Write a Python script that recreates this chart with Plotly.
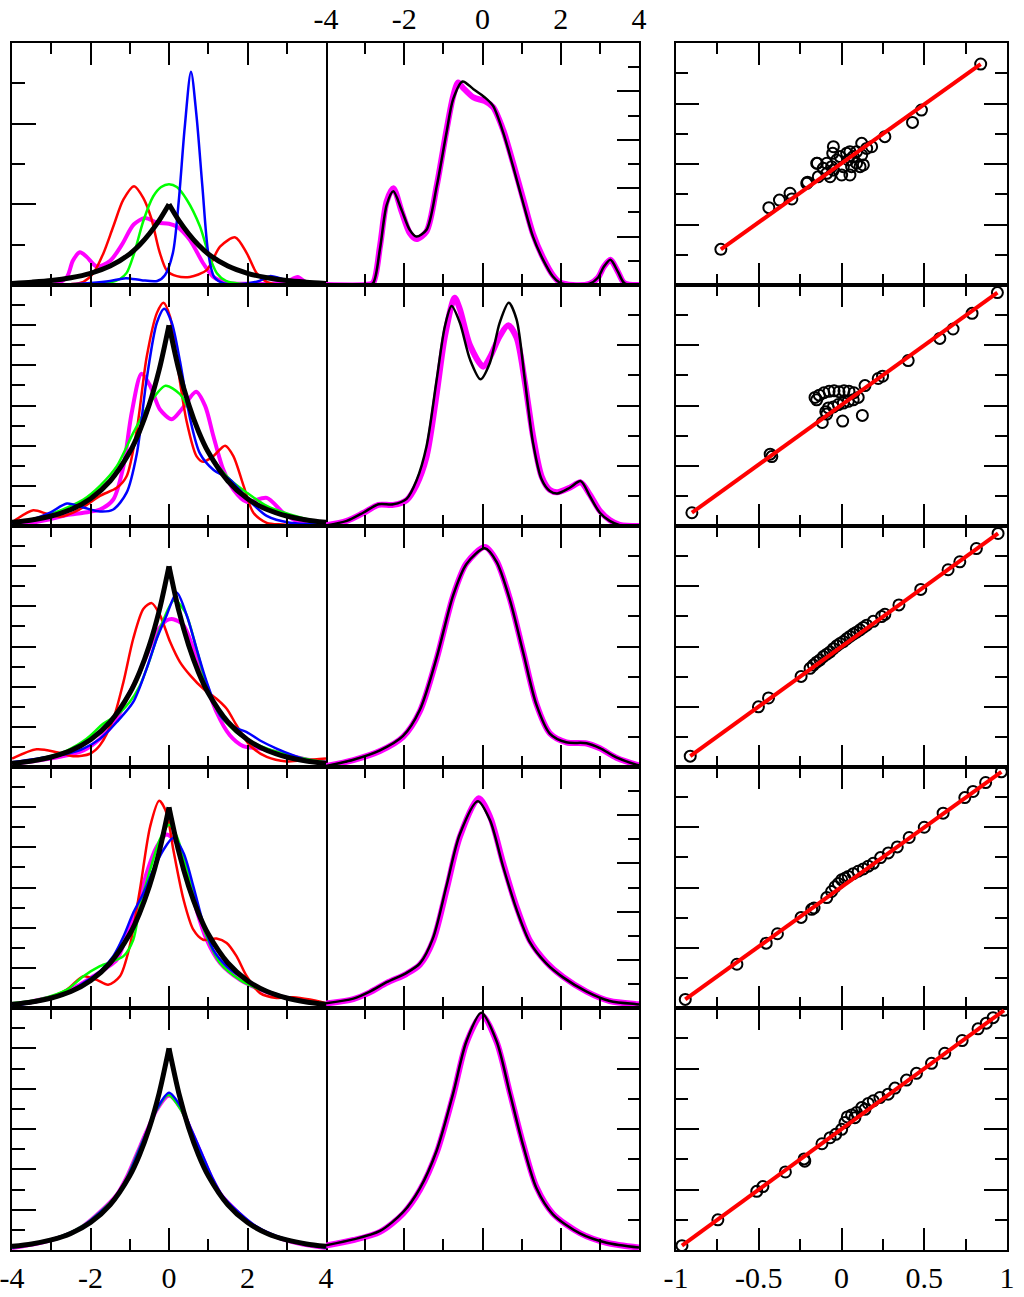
import plotly.graph_objects as go
from plotly.subplots import make_subplots

W, H = 1024, 1297

# ---------------- column 1: density estimates ----------------
# black reference curves
blk1_x = [-4, -3.5, -3, -2.5, -2, -1.5, -1, -0.75, -0.5, -0.25, 0, 0.25, 0.5, 0.75, 1, 1.5, 2, 2.5, 3, 3.5, 4]
blk1_y = [0.004, 0.007, 0.011, 0.018, 0.029, 0.047, 0.077, 0.099, 0.127, 0.16, 0.2, 0.16, 0.127, 0.099, 0.077, 0.047, 0.029, 0.018, 0.011, 0.007, 0.004]
blk_x = [-4, -3.5, -3, -2.5, -2, -1.5, -1, -0.75, -0.5, -0.25, 0, 0.25, 0.5, 0.75, 1, 1.5, 2, 2.5, 3, 3.5, 4]
blk_y = [0.009, 0.015, 0.025, 0.041, 0.068, 0.112, 0.184, 0.236, 0.303, 0.389, 0.5, 0.389, 0.303, 0.236, 0.184, 0.112, 0.068, 0.041, 0.025, 0.015, 0.009]

# row 1
r1_red_x = [-4, -3, -2.5, -2.18, -1.93, -1.67, -1.42, -1.16, -0.89, -0.65, -0.45, -0.25, -0.05, 0.2, 0.53, 0.96, 1.3, 1.69, 1.98, 2.23, 2.49, 2.8, 4]
r1_red_y = [0, 0.0, 0.002, 0.008, 0.029, 0.079, 0.145, 0.212, 0.245, 0.215, 0.165, 0.085, 0.035, 0.022, 0.02, 0.037, 0.095, 0.118, 0.079, 0.03, 0.008, 0.001, 0]
r1_grn_x = [-4, -2, -1.5, -1.25, -1.08, -0.9, -0.65, -0.4, -0.2, 0, 0.2, 0.45, 0.79, 1.0, 1.22, 1.45, 1.8, 2.5, 4]
r1_grn_y = [0, 0.001, 0.006, 0.015, 0.03, 0.075, 0.16, 0.22, 0.243, 0.25, 0.243, 0.212, 0.145, 0.079, 0.029, 0.01, 0.003, 0.001, 0]
r1_blu_x = [-4, -2.5, -2, -1.5, -1.1, -0.7, -0.3, -0.1, 0.1, 0.25, 0.4, 0.56, 0.7, 0.85, 1.0, 1.15, 1.4, 1.8, 2.3, 2.57, 3.0, 3.4, 4]
r1_blu_y = [0, 0.002, 0.005, 0.01, 0.017, 0.012, 0.01, 0.025, 0.08, 0.21, 0.39, 0.529, 0.42, 0.245, 0.079, 0.02, 0.004, 0.002, 0.01, 0.022, 0.012, 0.004, 0]
r1_mag_x = [-4, -2.9, -2.6, -2.45, -2.27, -2.1, -1.84, -1.5, -1.2, -0.9, -0.61, -0.31, 0, 0.2, 0.53, 0.87, 1.13, 1.47, 2.0, 2.6, 3.0, 3.28, 3.5, 4]
r1_mag_y = [0, 0.002, 0.02, 0.06, 0.081, 0.07, 0.046, 0.06, 0.1, 0.15, 0.166, 0.155, 0.152, 0.145, 0.112, 0.054, 0.02, 0.006, 0.003, 0.003, 0.008, 0.02, 0.006, 0]

# row 2
r2_red_x = [-4, -3.88, -3.46, -3.1, -2.78, -2.3, -1.76, -1.33, -1.08, -0.82, -0.57, -0.31, -0.14, 0.03, 0.2, 0.45, 0.7, 0.87, 1.13, 1.43, 1.64, 1.9, 2.15, 2.49, 2.9, 4]
r2_red_y = [0.008, 0.017, 0.039, 0.03, 0.023, 0.04, 0.075, 0.095, 0.124, 0.24, 0.42, 0.53, 0.556, 0.52, 0.41, 0.26, 0.174, 0.16, 0.174, 0.2, 0.174, 0.1, 0.033, 0.008, 0.004, 0.001]
r2_grn_x = [-4, -3.88, -3.03, -2.6, -2.18, -1.76, -1.33, -0.91, -0.48, -0.09, 0.28, 0.54, 0.79, 1.13, 1.55, 1.98, 2.49, 3.08, 3.76, 4]
r2_grn_y = [0.006, 0.008, 0.029, 0.046, 0.066, 0.1, 0.149, 0.232, 0.307, 0.349, 0.328, 0.282, 0.224, 0.166, 0.116, 0.083, 0.05, 0.029, 0.012, 0.009]
r2_blu_x = [-4, -3.46, -3.03, -2.6, -2.18, -1.76, -1.42, -1.08, -0.82, -0.57, -0.31, -0.12, 0.07, 0.28, 0.54, 0.79, 1.13, 1.55, 1.98, 2.49, 3.08, 4]
r2_blu_y = [0.004, 0.017, 0.033, 0.056, 0.046, 0.036, 0.041, 0.083, 0.18, 0.365, 0.506, 0.541, 0.506, 0.41, 0.266, 0.18, 0.14, 0.116, 0.07, 0.025, 0.008, 0.004]
r2_mag_x = [-4, -3.9, -3.03, -2.6, -2.18, -1.76, -1.42, -1.16, -0.95, -0.7, -0.48, -0.23, 0.07, 0.32, 0.69, 0.92, 1.13, 1.38, 1.64, 1.98, 2.49, 2.91, 3.34, 3.8, 4]
r2_mag_y = [0.001, 0.002, 0.017, 0.027, 0.033, 0.041, 0.066, 0.149, 0.282, 0.379, 0.349, 0.29, 0.266, 0.29, 0.334, 0.299, 0.224, 0.141, 0.091, 0.06, 0.07, 0.033, 0.008, 0.002, 0.001]

# row 3
r3_red_x = [-4, -3.37, -2.86, -2.44, -2.01, -1.76, -1.42, -1.16, -0.91, -0.65, -0.44, -0.23, 0.03, 0.28, 0.54, 0.87, 1.21, 1.47, 1.72, 2.06, 2.49, 3.0, 3.5, 4]
r3_red_y = [0.021, 0.044, 0.037, 0.027, 0.033, 0.054, 0.12, 0.212, 0.32, 0.394, 0.408, 0.378, 0.311, 0.261, 0.228, 0.195, 0.17, 0.145, 0.104, 0.054, 0.025, 0.014, 0.017, 0.021]
r3_grn_x = [-4, -3.29, -2.6, -2.1, -1.67, -1.33, -1.0, -0.74, -0.48, -0.23, 0.13, 0.41, 0.7, 0.96, 1.3, 1.81, 2.49, 3.17, 3.85, 4]
r3_grn_y = [0.01, 0.021, 0.041, 0.07, 0.108, 0.129, 0.162, 0.203, 0.27, 0.344, 0.415, 0.386, 0.295, 0.203, 0.129, 0.079, 0.046, 0.027, 0.014, 0.012]
r3_blu_x = [-4, -3.29, -2.6, -2.18, -1.76, -1.33, -0.91, -0.57, -0.31, -0.06, 0.2, 0.45, 0.7, 0.96, 1.3, 1.64, 1.98, 2.32, 2.74, 3.17, 3.68, 4]
r3_blu_y = [0.012, 0.022, 0.033, 0.046, 0.07, 0.112, 0.162, 0.245, 0.32, 0.378, 0.434, 0.378, 0.295, 0.212, 0.129, 0.1, 0.087, 0.066, 0.046, 0.029, 0.012, 0.008]
r3_mag_x = [-4, -3.29, -2.6, -2.18, -1.76, -1.33, -1.08, -0.82, -0.57, -0.31, -0.06, 0.11, 0.37, 0.62, 0.87, 1.21, 1.55, 1.89, 2.32, 2.91, 3.5, 4]
r3_mag_y = [0.008, 0.017, 0.029, 0.041, 0.07, 0.12, 0.17, 0.22, 0.278, 0.336, 0.365, 0.368, 0.353, 0.295, 0.228, 0.137, 0.079, 0.052, 0.046, 0.033, 0.019, 0.012]

# row 4
r4_red_x = [-4, -3.29, -2.6, -2.18, -1.84, -1.55, -1.25, -1.0, -0.74, -0.48, -0.25, -0.06, 0.11, 0.37, 0.62, 0.87, 1.21, 1.47, 1.72, 1.98, 2.32, 2.74, 3.17, 3.59, 4]
r4_red_y = [0.008, 0.017, 0.046, 0.079, 0.07, 0.058, 0.079, 0.154, 0.295, 0.452, 0.516, 0.485, 0.394, 0.27, 0.195, 0.17, 0.173, 0.162, 0.129, 0.079, 0.037, 0.025, 0.027, 0.021, 0.012]
r4_grn_x = [-4, -3.29, -2.6, -2.18, -1.76, -1.16, -0.91, -0.74, -0.48, -0.23, 0.0, 0.2, 0.45, 0.7, 0.96, 1.3, 1.81, 2.32, 2.91, 3.5, 4]
r4_grn_y = [0.012, 0.022, 0.046, 0.079, 0.104, 0.129, 0.17, 0.253, 0.344, 0.42, 0.456, 0.427, 0.344, 0.253, 0.178, 0.112, 0.07, 0.046, 0.027, 0.017, 0.011]
r4_blu_x = [-4, -3.29, -2.6, -2.18, -1.76, -1.42, -1.16, -0.91, -0.65, -0.4, -0.14, 0.11, 0.37, 0.62, 0.87, 1.13, 1.47, 1.81, 2.32, 2.91, 3.5, 4]
r4_blu_y = [0.006, 0.017, 0.037, 0.062, 0.091, 0.129, 0.178, 0.237, 0.286, 0.344, 0.394, 0.423, 0.386, 0.303, 0.212, 0.145, 0.104, 0.079, 0.05, 0.029, 0.017, 0.008]
r4_mag_x = [-4, -3.46, -2.78, -2.35, -1.93, -1.59, -1.33, -1.08, -0.82, -0.57, -0.31, -0.06, 0.2, 0.45, 0.7, 0.96, 1.3, 1.81, 2.32, 2.91, 3.5, 4]
r4_mag_y = [0.008, 0.017, 0.033, 0.054, 0.079, 0.1, 0.12, 0.178, 0.245, 0.336, 0.402, 0.432, 0.41, 0.344, 0.245, 0.17, 0.112, 0.07, 0.046, 0.027, 0.017, 0.008]

# row 5
r5_grn_x = [-4, -3.29, -2.6, -2.18, -1.76, -1.33, -1.08, -0.82, -0.57, -0.31, -0.02, 0.3, 0.56, 0.82, 1.08, 1.33, 1.76, 2.18, 2.6, 3.29, 4]
r5_grn_y = [0.006, 0.018, 0.04, 0.061, 0.094, 0.136, 0.178, 0.236, 0.292, 0.348, 0.384, 0.348, 0.292, 0.234, 0.176, 0.134, 0.092, 0.059, 0.038, 0.017, 0.006]
r5_blu_x = [-4, -3.29, -2.6, -2.18, -1.76, -1.33, -1.08, -0.82, -0.57, -0.31, 0.0, 0.32, 0.58, 0.84, 1.1, 1.35, 1.78, 2.2, 2.62, 3.3, 4]
r5_blu_y = [0.006, 0.018, 0.039, 0.06, 0.093, 0.134, 0.176, 0.234, 0.292, 0.35, 0.39, 0.352, 0.296, 0.238, 0.18, 0.136, 0.093, 0.06, 0.039, 0.018, 0.006]
r5_mag_x = [-4, -3.29, -2.6, -2.18, -1.76, -1.33, -1.08, -0.82, -0.57, -0.31, 0.0, 0.31, 0.57, 0.83, 1.09, 1.34, 1.77, 2.19, 2.61, 3.3, 4]
r5_mag_y = [0.005, 0.017, 0.038, 0.06, 0.094, 0.137, 0.18, 0.238, 0.294, 0.348, 0.383, 0.35, 0.294, 0.236, 0.178, 0.135, 0.092, 0.058, 0.037, 0.016, 0.005]

# ---------------- column 2: mixture densities ----------------
c2r1_blk_x = [-4, -3.0, -2.8, -2.62, -2.45, -2.28, -2.07, -1.86, -1.69, -1.43, -1.17, -0.92, -0.75, -0.51, -0.23, 0.06, 0.27, 0.53, 0.78, 1.04, 1.29, 1.55, 1.8, 1.97, 2.31, 2.74, 2.95, 3.1, 3.27, 3.46, 3.63, 4]
c2r1_blk_y = [0, 0.0, 0.007, 0.15, 0.33, 0.387, 0.311, 0.228, 0.2, 0.228, 0.408, 0.63, 0.768, 0.841, 0.809, 0.775, 0.74, 0.63, 0.491, 0.339, 0.2, 0.104, 0.035, 0.01, 0.0, 0.005, 0.03, 0.075, 0.104, 0.055, 0.007, 0]
c2r1_mag_x = [-4, -3.0, -2.8, -2.62, -2.45, -2.28, -2.07, -1.86, -1.69, -1.43, -1.17, -0.92, -0.75, -0.62, -0.5, -0.23, 0.06, 0.27, 0.53, 0.78, 1.04, 1.29, 1.55, 1.8, 1.97, 2.31, 2.74, 2.95, 3.1, 3.27, 3.46, 3.63, 4]
c2r1_mag_y = [0, 0.0, 0.008, 0.16, 0.345, 0.4, 0.305, 0.215, 0.19, 0.222, 0.41, 0.64, 0.78, 0.837, 0.815, 0.775, 0.76, 0.735, 0.64, 0.505, 0.355, 0.212, 0.112, 0.04, 0.012, 0.0, 0.005, 0.03, 0.075, 0.104, 0.055, 0.007, 0]

c2r2_blk_x = [-4, -3.47, -3.05, -2.66, -2.28, -1.94, -1.69, -1.43, -1.17, -0.96, -0.79, -0.58, -0.32, -0.05, 0.19, 0.44, 0.67, 0.87, 1.08, 1.29, 1.51, 1.72, 1.91, 2.23, 2.51, 2.74, 3.0, 3.25, 3.51, 4]
c2r2_blk_y = [0.002, 0.017, 0.044, 0.072, 0.072, 0.09, 0.15, 0.265, 0.487, 0.664, 0.73, 0.675, 0.553, 0.487, 0.542, 0.675, 0.741, 0.686, 0.487, 0.277, 0.155, 0.116, 0.108, 0.127, 0.149, 0.1, 0.044, 0.017, 0.003, 0]
c2r2_mag_x = [-4, -3.47, -3.05, -2.66, -2.28, -1.94, -1.69, -1.43, -1.17, -0.96, -0.71, -0.58, -0.32, 0.02, 0.19, 0.44, 0.66, 0.87, 1.08, 1.29, 1.51, 1.72, 1.91, 2.23, 2.51, 2.74, 3.0, 3.25, 3.51, 4]
c2r2_mag_y = [0.002, 0.017, 0.043, 0.07, 0.07, 0.086, 0.135, 0.23, 0.44, 0.63, 0.758, 0.72, 0.6, 0.529, 0.56, 0.63, 0.666, 0.625, 0.48, 0.3, 0.165, 0.12, 0.112, 0.127, 0.145, 0.105, 0.05, 0.02, 0.004, 0]

c2r3_blk_x = [-4, -3.3, -2.62, -2.03, -1.6, -1.17, -0.75, -0.41, 0.06, 0.36, 0.7, 1.04, 1.38, 1.72, 2.14, 2.66, 3.0, 3.42, 3.93, 4]
c2r3_blk_y = [0.003, 0.024, 0.055, 0.103, 0.19, 0.364, 0.57, 0.674, 0.726, 0.681, 0.555, 0.38, 0.206, 0.111, 0.082, 0.079, 0.063, 0.032, 0.008, 0.006]
c2r3_mag_x = [-4, -3.3, -2.62, -2.03, -1.6, -1.17, -0.75, -0.41, 0.06, 0.36, 0.7, 1.04, 1.38, 1.72, 2.14, 2.66, 3.0, 3.42, 3.93, 4]
c2r3_mag_y = [0.003, 0.023, 0.053, 0.1, 0.185, 0.36, 0.568, 0.676, 0.73, 0.684, 0.558, 0.383, 0.208, 0.112, 0.082, 0.078, 0.062, 0.031, 0.008, 0.006]

c2r4_blk_x = [-4, -3.3, -2.88, -2.45, -1.94, -1.6, -1.26, -0.92, -0.58, -0.12, 0.19, 0.53, 0.87, 1.21, 1.63, 2.06, 2.66, 3.25, 3.93, 4]
c2r4_blk_y = [0.02, 0.039, 0.068, 0.107, 0.146, 0.185, 0.292, 0.507, 0.721, 0.858, 0.78, 0.585, 0.409, 0.273, 0.185, 0.127, 0.068, 0.029, 0.016, 0.015]
c2r4_mag_x = [-4, -3.3, -2.88, -2.45, -1.94, -1.6, -1.26, -0.92, -0.58, -0.1, 0.19, 0.53, 0.87, 1.21, 1.63, 2.06, 2.66, 3.25, 3.93, 4]
c2r4_mag_y = [0.019, 0.037, 0.065, 0.104, 0.142, 0.18, 0.28, 0.49, 0.71, 0.87, 0.795, 0.6, 0.42, 0.28, 0.19, 0.129, 0.068, 0.029, 0.016, 0.015]

c2r5_blk_x = [-4, -3.3, -2.62, -2.03, -1.6, -1.17, -0.75, -0.41, -0.03, 0.36, 0.7, 1.04, 1.38, 1.8, 2.49, 3.17, 4]
c2r5_blk_y = [0.016, 0.035, 0.063, 0.125, 0.204, 0.329, 0.518, 0.69, 0.784, 0.69, 0.518, 0.345, 0.204, 0.118, 0.055, 0.024, 0.008]
c2r5_mag_x = [-4, -3.3, -2.62, -2.03, -1.6, -1.17, -0.75, -0.41, -0.02, 0.36, 0.7, 1.04, 1.38, 1.8, 2.49, 3.17, 4]
c2r5_mag_y = [0.015, 0.033, 0.06, 0.12, 0.198, 0.322, 0.51, 0.685, 0.776, 0.688, 0.52, 0.35, 0.208, 0.12, 0.056, 0.024, 0.008]

# ---------------- column 3: quantile comparisons ----------------
q1_x = [-0.729, -0.439, -0.375, -0.311, -0.30, -0.21, -0.205, -0.15, -0.146, -0.14, -0.11, -0.089, -0.089, -0.069, -0.06, -0.049, -0.049, -0.053, -0.029, -0.009, 0.001, 0.011, 0.031, 0.041, 0.051, 0.051, 0.061, 0.071, 0.091, 0.091, 0.112, 0.122, 0.122, 0.132, 0.152, 0.182, 0.262, 0.429, 0.483, 0.841]
q1_y = [-0.705, -0.361, -0.298, -0.242, -0.289, -0.16, -0.15, 0.006, 0.006, -0.105, -0.036, -0.077, 0.006, -0.105, -0.022, -0.05, 0.143, 0.088, 0.033, 0.061, -0.091, -0.022, 0.088, 0.033, 0.102, -0.091, -0.022, 0.061, 0.006, 0.102, -0.022, 0.171, 0.074, -0.008, 0.129, 0.143, 0.226, 0.344, 0.446, 0.826]
q1_line_x = [-0.729, 0.841]
q1_line_y = [-0.705, 0.826]

q2_x = [-0.904, -0.431, -0.421, -0.116, -0.095, 0.007, 0.126, -0.16, -0.134, -0.106, -0.075, -0.045, -0.015, 0.015, 0.045, 0.075, -0.15, -0.079, -0.049, -0.019, 0.011, 0.041, 0.071, 0.101, -0.089, 0.142, 0.222, 0.248, 0.403, 0.594, 0.674, 0.789, 0.942]
q2_y = [-0.89, -0.404, -0.424, -0.141, -0.051, -0.129, -0.082, 0.067, 0.086, 0.106, 0.118, 0.122, 0.114, 0.122, 0.118, 0.106, 0.047, -0.02, -0.012, 0.008, 0.02, 0.035, 0.047, 0.067, -0.071, 0.165, 0.224, 0.243, 0.373, 0.557, 0.635, 0.765, 0.937]
q2_line_x = [-0.904, 0.942]
q2_line_y = [-0.89, 0.937]

q3_x = [-0.914, -0.502, -0.441, -0.244, -0.19, -0.17, -0.15, -0.13, -0.11, -0.089, -0.069, -0.049, -0.029, -0.009, 0.011, 0.031, 0.051, 0.071, 0.091, 0.112, 0.132, 0.152, 0.192, 0.242, 0.262, 0.347, 0.479, 0.644, 0.715, 0.815, 0.946]
q3_y = [-0.91, -0.501, -0.427, -0.248, -0.181, -0.154, -0.13, -0.111, -0.084, -0.064, -0.045, -0.018, 0.006, 0.025, 0.041, 0.064, 0.084, 0.103, 0.119, 0.138, 0.158, 0.177, 0.209, 0.248, 0.267, 0.345, 0.474, 0.637, 0.703, 0.813, 0.938]
q3_line_x = [-0.914, 0.946]
q3_line_y = [-0.91, 0.938]

q4_x = [-0.944, -0.632, -0.455, -0.387, -0.244, -0.18, -0.166, -0.089, -0.06, -0.039, -0.019, 0.001, 0.021, 0.041, 0.071, 0.101, 0.132, 0.162, 0.192, 0.236, 0.283, 0.337, 0.409, 0.5, 0.614, 0.745, 0.795, 0.871, 0.966]
q4_y = [-0.929, -0.637, -0.462, -0.384, -0.248, -0.181, -0.17, -0.084, -0.033, 0.006, 0.033, 0.064, 0.076, 0.092, 0.115, 0.135, 0.154, 0.177, 0.201, 0.248, 0.287, 0.337, 0.415, 0.5, 0.617, 0.746, 0.797, 0.871, 0.96]
q4_line_x = [-0.944, 0.966]
q4_line_y = [-0.929, 0.96]

q5_x = [-0.964, -0.747, -0.512, -0.475, -0.339, -0.226, -0.222, -0.118, -0.069, -0.035, 0.001, 0.021, 0.035, 0.061, 0.081, 0.091, 0.122, 0.142, 0.162, 0.192, 0.232, 0.282, 0.323, 0.393, 0.453, 0.544, 0.624, 0.729, 0.825, 0.875, 0.916, 0.982]
q5_y = [-0.964, -0.751, -0.515, -0.476, -0.355, -0.247, -0.266, -0.122, -0.072, -0.044, -0.003, 0.053, 0.1, 0.116, 0.094, 0.136, 0.177, 0.163, 0.211, 0.233, 0.26, 0.288, 0.338, 0.404, 0.46, 0.543, 0.626, 0.731, 0.828, 0.875, 0.92, 0.981]
q5_line_x = [-0.964, 0.982]
q5_line_y = [-0.964, 0.981]

# tick values / labels
dens_ticks = [-4, -2, 0, 2, 4]
dens_labels = ["-4", "-2", "0", "2", "4"]
dens_minor = [-3, -1, 1, 3]
qq_ticks = [-1, -0.5, 0, 0.5, 1]
qq_labels = ["-1", "-0.5", "0", "0.5", "1"]
qq_minor = [-0.75, -0.25, 0.25, 0.75]

RED, GRN, BLU, MAG = "#ff0000", "#00ff00", "#0000ff", "#ff00ff"
FONT = "Liberation Serif"

col_px = [(12, 326), (326, 639), (676, 1007)]
row_px = [43, 285, 526, 767, 1008, 1250]

fig = make_subplots(rows=5, cols=3)


def add_line(r, c, x, y, color, width):
    fig.add_trace(go.Scatter(x=x, y=y, mode="lines",
                             line=dict(color=color, width=width, shape="spline", smoothing=0.8)),
                  row=r, col=c)


def add_cusp(r, c, x, y, width):
    # draw the two halves separately so the peak stays sharp
    i0 = x.index(0)
    add_line(r, c, x[:i0 + 1], y[:i0 + 1], "black", width)
    add_line(r, c, x[i0:], y[i0:], "black", width)


col1 = [
    (r1_red_x, r1_red_y, r1_grn_x, r1_grn_y, r1_blu_x, r1_blu_y, r1_mag_x, r1_mag_y, blk1_x, blk1_y),
    (r2_red_x, r2_red_y, r2_grn_x, r2_grn_y, r2_blu_x, r2_blu_y, r2_mag_x, r2_mag_y, blk_x, blk_y),
    (r3_red_x, r3_red_y, r3_grn_x, r3_grn_y, r3_blu_x, r3_blu_y, r3_mag_x, r3_mag_y, blk_x, blk_y),
    (r4_red_x, r4_red_y, r4_grn_x, r4_grn_y, r4_blu_x, r4_blu_y, r4_mag_x, r4_mag_y, blk_x, blk_y),
    (None, None, r5_grn_x, r5_grn_y, r5_blu_x, r5_blu_y, r5_mag_x, r5_mag_y, blk_x, blk_y),
]
for i, (rx, ry, gx, gy, bx, by, mx, my, kx, ky) in enumerate(col1):
    r = i + 1
    add_line(r, 1, mx, my, MAG, 4)
    if rx is not None:
        add_line(r, 1, rx, ry, RED, 2.5)
    add_line(r, 1, gx, gy, GRN, 2.5)
    add_line(r, 1, bx, by, BLU, 2.5)
    add_cusp(r, 1, kx, ky, 5)

col2 = [
    (c2r1_mag_x, c2r1_mag_y, c2r1_blk_x, c2r1_blk_y),
    (c2r2_mag_x, c2r2_mag_y, c2r2_blk_x, c2r2_blk_y),
    (c2r3_mag_x, c2r3_mag_y, c2r3_blk_x, c2r3_blk_y),
    (c2r4_mag_x, c2r4_mag_y, c2r4_blk_x, c2r4_blk_y),
    (c2r5_mag_x, c2r5_mag_y, c2r5_blk_x, c2r5_blk_y),
]
for i, (mx, my, kx, ky) in enumerate(col2):
    add_line(i + 1, 2, mx, my, MAG, 6)
    add_line(i + 1, 2, kx, ky, "black", 2.5)

col3 = [
    (q1_x, q1_y, q1_line_x, q1_line_y),
    (q2_x, q2_y, q2_line_x, q2_line_y),
    (q3_x, q3_y, q3_line_x, q3_line_y),
    (q4_x, q4_y, q4_line_x, q4_line_y),
    (q5_x, q5_y, q5_line_x, q5_line_y),
]
for i, (px, py, lx, ly) in enumerate(col3):
    fig.add_trace(go.Scatter(x=px, y=py, mode="markers",
                             marker=dict(symbol="circle-open", size=11, color="black",
                                         line=dict(width=2, color="black"))),
                  row=i + 1, col=3)
    fig.add_trace(go.Scatter(x=lx, y=ly, mode="lines", line=dict(color=RED, width=4)),
                  row=i + 1, col=3)

# axes
common = dict(showline=True, linecolor="black", linewidth=2, showgrid=False, zeroline=False,
              ticks="inside", tickcolor="black", tickwidth=2, automargin=False,
              tickfont=dict(family=FONT, size=30, color="black"))
for r in range(1, 6):
    y0 = 1 - row_px[r] / H
    y1 = 1 - row_px[r - 1] / H
    for c in range(1, 4):
        xd = [col_px[c - 1][0] / W, col_px[c - 1][1] / W]
        if c < 3:
            xt, xl, xm, xr = dens_ticks, dens_labels, dens_minor, [-4, 4]
        else:
            xt, xl, xm, xr = qq_ticks, qq_labels, qq_minor, [-1, 1]
        show_x = (c == 1 and r == 5) or (c == 3 and r == 5) or (c == 2 and r == 1)
        fig.update_xaxes(common, domain=xd, range=xr, mirror="ticks", tickmode="array",
                         tickvals=xt, ticktext=xl, ticklen=22, showticklabels=show_x,
                         ticklabeloverflow="allow",
                         side="top" if (c == 2 and r == 1) else "bottom",
                         minor=dict(tickmode="array", tickvals=xm, ticklen=11, tickwidth=2,
                                    ticks="inside", tickcolor="black"),
                         row=r, col=c)
        if c == 1:
            if r == 1:
                yt, ym = [0.2, 0.4], [0.1, 0.3, 0.5]
            else:
                yt, ym = [0.1, 0.2, 0.3, 0.4, 0.5], [0.05, 0.15, 0.25, 0.35, 0.45, 0.55]
            fig.update_yaxes(common, domain=[y0, y1], range=[0, 0.6], mirror=True,
                             tickmode="array", tickvals=yt, ticklen=24, showticklabels=False,
                             minor=dict(tickmode="array", tickvals=ym, ticklen=13, tickwidth=2,
                                        ticks="inside", tickcolor="black"),
                             row=r, col=c)
        elif c == 2:
            if r in (1, 4):
                yr, yt, ym = [0, 1.0], [0.2, 0.4, 0.6, 0.8], [0.1, 0.3, 0.5, 0.7, 0.9]
            else:
                yr, yt, ym = [0, 0.8], [0.2, 0.4, 0.6], [0.1, 0.3, 0.5, 0.7]
            # left edge is already drawn by the column-1 frame
            fig.update_yaxes(common, domain=[y0, y1], range=yr, mirror=False, side="right",
                             tickmode="array", tickvals=yt, ticklen=22, showticklabels=False,
                             minor=dict(tickmode="array", tickvals=ym, ticklen=11, tickwidth=2,
                                        ticks="inside", tickcolor="black"),
                             row=r, col=c)
        else:
            fig.update_yaxes(common, domain=[y0, y1], range=[-1, 1], mirror="ticks",
                             tickmode="array", tickvals=[-0.5, 0, 0.5], ticklen=23,
                             showticklabels=False,
                             minor=dict(tickmode="array", tickvals=qq_minor, ticklen=12, tickwidth=2,
                                        ticks="inside", tickcolor="black"),
                             row=r, col=c)

fig.update_layout(width=W, height=H, margin=dict(l=0, r=0, t=0, b=0, pad=0),
                  showlegend=False, paper_bgcolor="white", plot_bgcolor="white",
                  font=dict(family=FONT, size=30, color="black"), hovermode=False)

# the page's default body margin would push the figure 8px off the corner
fig.write_html("out.html", config={"displayModeBar": False},
               post_script="document.body.style.margin = '0';")
